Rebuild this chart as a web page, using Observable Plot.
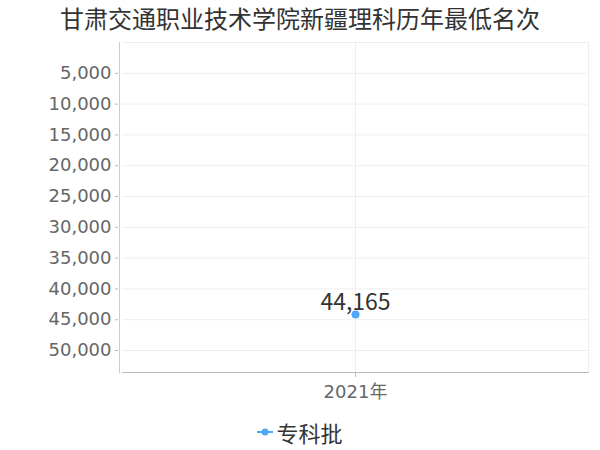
<!DOCTYPE html>
<html>
<head>
<meta charset="utf-8">
<script src="https://cdn.jsdelivr.net/npm/d3@7"></script>
<script src="https://cdn.jsdelivr.net/npm/@observablehq/plot@0.6"></script>
<style>
  body { margin: 0; background: #fff; font-family: "Noto Sans CJK SC", "DejaVu Sans", sans-serif; }
  #wrap { width: 600px; height: 450px; position: relative; }
  #title { height: 36px; line-height: 36px; text-align: center; font-size: 24px; color: #333; }
  #legend { height: 40px; display: flex; align-items: center; justify-content: center; font-size: 22px; color: #333; }
  #legend svg { margin-right: 3px; }
  svg { display: block; }
</style>
</head>
<body>
<div id="wrap">
  <div id="title">甘肃交通职业技术学院新疆理科历年最低名次</div>
  <div id="chart"></div>
  <div id="legend"></div>
</div>
<script>
const years = ["2021年"];
const values = [44165];
const seriesName = "专科批";
const yTicks = [5000, 10000, 15000, 20000, 25000, 30000, 35000, 40000, 45000, 50000];
const gridTicks = [0, 5000, 10000, 15000, 20000, 25000, 30000, 35000, 40000, 45000, 50000];
const yMax = 53570;
const color = "#4ea7f7";

const data = years.map((y, i) => ({year: y, value: values[i]}));
const fmt = d3.format(",");

const chart = Plot.plot({
  width: 600,
  height: 376,
  marginTop: 6,
  marginLeft: 122,
  marginRight: 12,
  marginBottom: 40,
  style: {fontFamily: '"DejaVu Sans", "Noto Sans CJK SC", sans-serif', background: "#fff"},
  x: {type: "point", domain: years, label: null},
  y: {domain: [0, yMax], reverse: true, label: null},
  marks: [
    Plot.gridY(gridTicks, {stroke: "#eeeeee", strokeOpacity: 1}),
    Plot.gridX(years, {stroke: "#eeeeee", strokeOpacity: 1}),
    Plot.frame({anchor: "right", stroke: "#eeeeee"}),
    Plot.frame({anchor: "left", stroke: "#cccccc", dx: -3}),
    Plot.frame({anchor: "bottom", stroke: "#bbbbbb"}),
    Plot.axisY(yTicks, {tickSize: 3, dx: -4, tickPadding: 4, tickFormat: fmt, fontSize: 18, fill: "#666", stroke: "#bbb", label: null}),
    Plot.axisX({tickSize: 5, tickPadding: 8, fontSize: 18, fill: "#666", stroke: "#bbb", label: null}),
    Plot.dot(data, {x: "year", y: "value", r: 4, fill: color, stroke: null}),
    Plot.text(data, {x: "year", y: "value", text: d => fmt(d.value), dy: -12, fontSize: 23, fontFamily: '"Noto Sans CJK SC", sans-serif', fill: "#333"})
  ]
});
document.getElementById("chart").appendChild(chart);

const legend = document.getElementById("legend");
legend.innerHTML = `<svg width="16" height="10"><line x1="0" y1="5" x2="16" y2="5" stroke="${color}" stroke-width="2"/><circle cx="8" cy="5" r="3.5" fill="${color}"/></svg><span>${seriesName}</span>`;
</script>
</body>
</html>
